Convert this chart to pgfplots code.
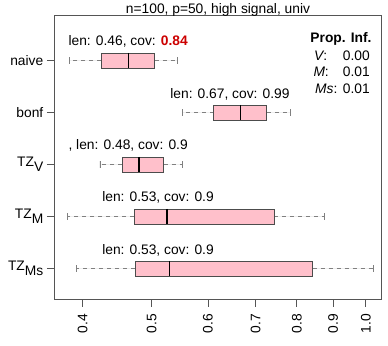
\documentclass[border=0pt]{standalone}
\usepackage{fontspec}
\setmainfont{Liberation Sans}
\usepackage{pgfplots}
\pgfplotsset{compat=1.18}
\usepgfplotslibrary{statistics}

\definecolor{boxpink}{HTML}{FFC0CB}
\definecolor{covred}{HTML}{CC0000}
\definecolor{framegray}{HTML}{555555}

\pgfplotsset{
  rbox/.style={
    solid, draw=black!70, fill=boxpink, line width=0.8bp,
    boxplot/box extend=0.29,
    boxplot/whisker extend=0.13,
    boxplot/every median/.style={draw=black, line width=1.6bp},
    boxplot/draw/lower whisker/.code={
      \draw[black!50, line width=0.7bp, dash pattern=on 4bp off 4bp]
        (boxplot box cs:\pgfplotsboxplotvalue{lower quartile},0.5) --
        (boxplot box cs:\pgfplotsboxplotvalue{lower whisker},0.5);
      \draw[black!50, line width=0.8bp, solid]
        (boxplot whisker cs:\pgfplotsboxplotvalue{lower whisker},0) --
        (boxplot whisker cs:\pgfplotsboxplotvalue{lower whisker},1);
    },
    boxplot/draw/upper whisker/.code={
      \draw[black!50, line width=0.7bp, dash pattern=on 4bp off 4bp]
        (boxplot box cs:\pgfplotsboxplotvalue{upper quartile},0.5) --
        (boxplot box cs:\pgfplotsboxplotvalue{upper whisker},0.5);
      \draw[black!50, line width=0.8bp, solid]
        (boxplot whisker cs:\pgfplotsboxplotvalue{upper whisker},0) --
        (boxplot whisker cs:\pgfplotsboxplotvalue{upper whisker},1);
    },
  },
}

\begin{document}
\begin{tikzpicture}[font=\fontsize{13.8bp}{16bp}\selectfont]
\path[use as bounding box] (0,0) rectangle (388bp,346bp);
\begin{axis}[
  at={(54.3bp,47bp)}, anchor=south west,
  width=327.4bp, height=284bp, scale only axis,
  xmode=log, xmin=0.365, xmax=1.053,
  ymin=0.125, ymax=5.587, y dir=reverse,
  xtick={0.4,0.5,0.6,0.7,0.8,0.9,1.0},
  xticklabels={0.4,0.5,0.6,0.7,0.8,0.9,1.0},
  minor xtick={},
  ytick={1,2,3,4,5},
  yticklabels={naive,bonf,
    TZ\raisebox{-5bp}{V}\hspace{-4bp},
    TZ\raisebox{-5bp}{M}\hspace{-4bp},
    TZ\raisebox{-5bp}{Ms}\hspace{-4bp}},
  tick align=outside, major tick length=7.5bp,
  xtick pos=bottom, ytick pos=left,
  xticklabel style={rotate=90, anchor=east},
  xticklabel shift=4bp,
  axis line style={framegray, line width=0.8bp},
  every tick/.style={framegray, line width=0.8bp},
  clip=false,
]
% naive
\addplot+[rbox, boxplot prepared={lower whisker=0.383, lower quartile=0.425,
  median=0.464, upper quartile=0.505, upper whisker=0.543, draw position=1}]
  coordinates {};
% bonf
\addplot+[rbox, boxplot prepared={lower whisker=0.553, lower quartile=0.611,
  median=0.667, upper quartile=0.726, upper whisker=0.783, draw position=2}]
  coordinates {};
% TZ_V
\addplot+[rbox, boxplot prepared={lower whisker=0.423, lower quartile=0.455,
  median=0.480, upper quartile=0.520, upper whisker=0.552, draw position=3}]
  coordinates {};
% TZ_M
\addplot+[rbox, boxplot prepared={lower whisker=0.381, lower quartile=0.473,
  median=0.526, upper quartile=0.743, upper whisker=0.874, draw position=4}]
  coordinates {};
% TZ_Ms
\addplot+[rbox, boxplot prepared={lower whisker=0.392, lower quartile=0.474,
  median=0.530, upper quartile=0.842, upper whisker=1.025, draw position=5}]
  coordinates {};

\node[anchor=base west, inner sep=0] at (axis cs:0.382,0.72)
  {len: 0.46, cov: \textcolor{covred}{\bfseries 0.84}};
\node[anchor=base west, inner sep=0] at (axis cs:0.531,1.727)
  {len: 0.67, cov: 0.99};
\node[anchor=base west, inner sep=0] at (axis cs:0.382,2.71)
  {, len: 0.48, cov: 0.9};
\node[anchor=base west, inner sep=0] at (axis cs:0.426,3.715)
  {len: 0.53, cov: 0.9};
\node[anchor=base west, inner sep=0] at (axis cs:0.426,4.74)
  {len: 0.53, cov: 0.9};
\end{axis}

% title
\node[anchor=base, inner sep=0] at (218bp,332.7bp) {n=100, p=50, high signal, univ};

% proportion of infinite intervals
\node[anchor=base east, inner sep=0, font=\fontsize{13.8bp}{16bp}\selectfont\bfseries]
  at (371.7bp,303.7bp) {Prop. Inf.};
\node[anchor=base west, inner sep=0] at (314bp,285.5bp) {\itshape V\upshape:};
\node[anchor=base east, inner sep=0] at (370bp,285.5bp) {0.00};
\node[anchor=base west, inner sep=0] at (313.3bp,269bp) {\itshape M\upshape:};
\node[anchor=base east, inner sep=0] at (370bp,269bp) {0.01};
\node[anchor=base west, inner sep=0] at (315bp,252.5bp) {\itshape Ms\upshape:};
\node[anchor=base east, inner sep=0] at (370bp,252.5bp) {0.01};
\end{tikzpicture}
\end{document}
